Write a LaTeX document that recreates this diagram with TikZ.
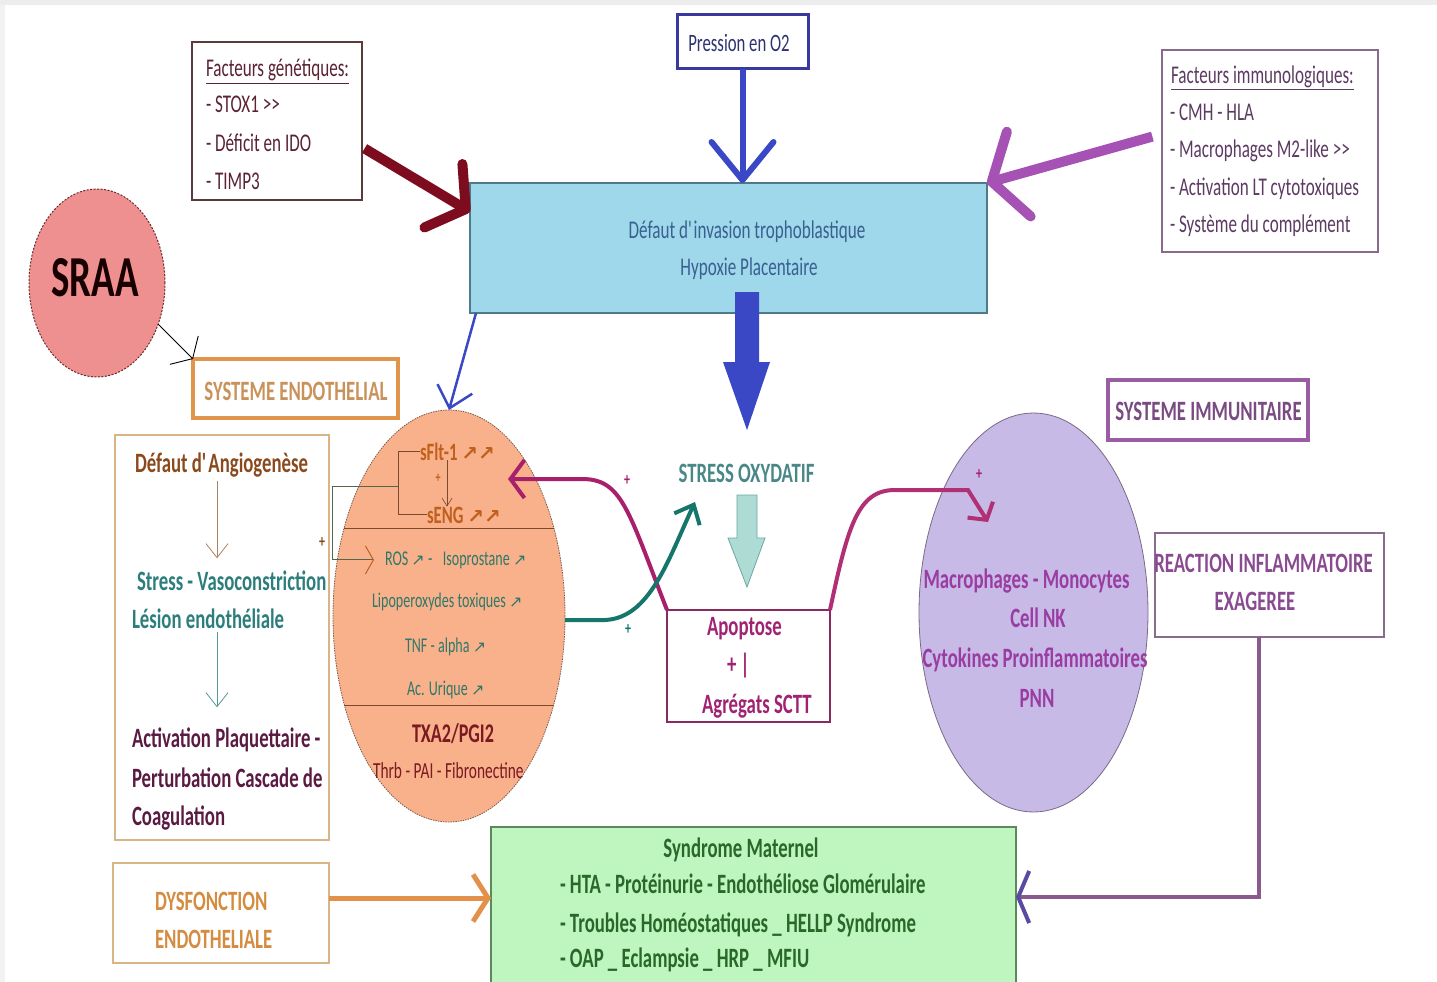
\documentclass[tikz,border=0pt]{standalone}
\usepackage{fontspec}
\setmainfont{Carlito}[FakeStretch=0.67]
\newfontfamily\symf{DejaVu Sans}
\usetikzlibrary{arrows.meta,shapes.geometric}
\definecolor{gentx}{HTML}{5A2232}
\definecolor{genbd}{HTML}{5A3A3A}
\definecolor{bluear}{HTML}{3A48C6}
\definecolor{presbd}{HTML}{3A3A9E}
\definecolor{prestx}{HTML}{2E3270}
\definecolor{hypfill}{HTML}{9ED8EA}
\definecolor{hypbd}{HTML}{4F7A88}
\definecolor{hyptx}{HTML}{3A5F90}
\definecolor{darkred}{HTML}{7D0C1E}
\definecolor{purar}{HTML}{A552B4}
\definecolor{immtx}{HTML}{5C3A62}
\definecolor{immbd}{HTML}{8A6A8A}
\definecolor{sraafill}{HTML}{EE9090}
\definecolor{sraabd}{HTML}{6A2A2A}
\definecolor{orbd}{HTML}{E0954A}
\definecolor{ortx}{HTML}{C8925A}
\definecolor{tanbd}{HTML}{D8B487}
\definecolor{browntx}{HTML}{8A4A1C}
\definecolor{tealtx}{HTML}{2C7E7C}
\definecolor{plumtx}{HTML}{5A1A42}
\definecolor{oefill}{HTML}{F9B18C}
\definecolor{oebd}{HTML}{7A5A4A}
\definecolor{oeline}{HTML}{7A4A2A}
\definecolor{loopc}{HTML}{56664E}
\definecolor{sflttx}{HTML}{C0601C}
\definecolor{oeteal}{HTML}{2F7868}
\definecolor{txatx}{HTML}{7A1A22}
\definecolor{magar}{HTML}{A8206C}
\definecolor{tealar}{HTML}{17766C}
\definecolor{stresstx}{HTML}{4A8888}
\definecolor{hatchfill}{HTML}{AEDCD4}
\definecolor{hatchbd}{HTML}{6AA8A0}
\definecolor{apobd}{HTML}{8A2A5C}
\definecolor{apotx}{HTML}{A02272}
\definecolor{pefill}{HTML}{C7BAE7}
\definecolor{pebd}{HTML}{7A6A84}
\definecolor{petx}{HTML}{9A3CA2}
\definecolor{sysibd}{HTML}{9A5CA2}
\definecolor{sysitx}{HTML}{7A4A82}
\definecolor{reacbd}{HTML}{8A6A8E}
\definecolor{reactx}{HTML}{8A4A92}
\definecolor{conn}{HTML}{8A5A8C}
\definecolor{connhd}{HTML}{5A4AA0}
\definecolor{dystx}{HTML}{D48C40}
\definecolor{orar}{HTML}{E3904A}
\definecolor{grfill}{HTML}{BFF5BF}
\definecolor{grbd}{HTML}{5A8A5A}
\definecolor{grtx}{HTML}{2A682A}
\newcommand\fz[1]{\fontsize{#1}{#1}\selectfont}
\newcommand\bfz{\fontsize{28}{28}\selectfont\bfseries}
\newcommand\upar[1][20]{{\symf\fontsize{#1}{#1}\selectfont ↗}}
\newcommand\q{\textquotesingle}
\begin{document}
\begin{tikzpicture}[x=1pt,y=-1pt,
  tx/.style={inner sep=0pt,outer sep=0pt},
  bx/.style={draw,rectangle,inner sep=0pt,outer sep=0pt},
  ell/.style={ellipse,draw,inner sep=0pt,outer sep=0pt},
]
\useasboundingbox (0,0) rectangle (1437,982);
\fill[black!7] (0,0) rectangle (1437,5);
\fill[black!5] (0,5) rectangle (5,982);

% ---------- genetic factors
\node[bx,draw=genbd,line width=1.3pt,minimum width=170pt,minimum height=158pt] (gen) at (277,121) {};
\node[tx,anchor=base west,text=gentx,font=\fz{25.5}] (gen0) at (206,77) {\underline{Facteurs génétiques:}};
\node[tx,anchor=base west,text=gentx,font=\fz{25.5}] (gen1) at (206,112) {- STOX1 >{}>};
\node[tx,anchor=base west,text=gentx,font=\fz{25.5}] (gen2) at (206,151) {- Déficit en IDO};
\node[tx,anchor=base west,text=gentx,font=\fz{25.5}] (gen3) at (206,189) {- TIMP3};

% ---------- pression
\node[bx,draw=presbd,line width=3pt,minimum width=131pt,minimum height=54pt] (pres) at (742.5,42) {};
\node[tx,anchor=base,text=prestx,font=\fz{25}] (prest) at (739,52) {Pression en O2};

% ---------- hypoxia box
\node[bx,fill=hypfill,draw=hypbd,line width=1.3pt,minimum width=517pt,minimum height=130pt] (hyp) at (728.5,248) {};
\node[tx,anchor=base,text=hyptx,font=\fz{25.5}] (hyp1) at (747,238) {Défaut d\q invasion trophoblastique};
\node[tx,anchor=base,text=hyptx,font=\fz{25.5}] (hyp2) at (749,275) {Hypoxie Placentaire};

% ---------- immunological factors
\node[bx,draw=immbd,line width=1.3pt,minimum width=216pt,minimum height=202pt] (imm) at (1270,151) {};
\node[tx,anchor=base west,text=immtx,font=\fz{25.5}] (imm0) at (1171,83) {\underline{Facteurs immunologiques:}};
\node[tx,anchor=base west,text=immtx,font=\fz{25.5}] (imm1) at (1170,120) {- CMH - HLA};
\node[tx,anchor=base west,text=immtx,font=\fz{25.5}] (imm2) at (1170,157) {- Macrophages M2-like >{}>};
\node[tx,anchor=base west,text=immtx,font=\fz{25.5}] (imm3) at (1170,195) {- Activation LT cytotoxiques};
\node[tx,anchor=base west,text=immtx,font=\fz{25.5}] (imm4) at (1170,232) {- Système du complément};

% big arrows into hypoxia box
\draw[bluear,line width=6pt,-{Straight Barb[length=38pt,width=62pt,round]}] (pres.south) -- (pres.south |- hyp.north);
\draw[darkred,line width=10pt,shorten <=3pt,-{Straight Barb[length=26pt,width=74pt,round]}] (gen.-17) -- (hyp.172);
\draw[purar,line width=10pt,shorten <=10pt,-{Straight Barb[length=28pt,width=88pt,round]}] (imm.171) -- (hyp.north east);

% ---------- SRAA
\node[ell,draw=sraabd,dash pattern=on 2pt off 1.5pt,line width=1pt,fill=sraafill,minimum width=136pt,minimum height=188pt] (sraa) at (97,283) {};
\node[tx,text=black!90!red,font=\fz{58}\bfseries] (sraat) at (95,278) {SRAA};

% ---------- systeme endothelial
\node[bx,draw=orbd,line width=4pt,minimum width=205pt,minimum height=59pt] (sysendo) at (295.5,388.5) {};
\node[tx,anchor=base,text=ortx,font=\bfz] (sysendot) at (296,400) {SYSTEME ENDOTHELIAL};
\draw[black,line width=0.9pt,-{Straight Barb[length=12pt,width=40pt]}] (sraa.-34) -- (sysendo.north west);

% ---------- angiogenesis box
\node[bx,draw=tanbd,line width=1.3pt,minimum width=214pt,minimum height=405pt] (angio) at (222,637.5) {};
\node[tx,anchor=base west,text=browntx,font=\bfz] (ang1) at (135,472) {Défaut d\q Angiogenèse};
\node[tx,anchor=base west,text=tealtx,font=\bfz] (ang2) at (137,590) {Stress - Vasoconstriction};
\node[tx,anchor=base west,text=tealtx,font=\bfz] (ang3) at (132,628) {Lésion endothéliale};
\node[tx,anchor=base west,text=plumtx,font=\bfz] (ang4) at (132,747) {Activation Plaquettaire -};
\node[tx,anchor=base west,text=plumtx,font=\bfz] (ang5) at (132,787) {Perturbation Cascade de};
\node[tx,anchor=base west,text=plumtx,font=\bfz] (ang6) at (132,825) {Coagulation};
\coordinate (angx) at (217,0);
\draw[browntx!70,line width=0.8pt,shorten <=4pt,shorten >=12pt,-{Straight Barb[length=14pt,width=22pt]}] (angx |- ang1.south) -- (angx |- ang2.north);
\draw[tealtx!80,line width=0.8pt,shorten <=4pt,shorten >=20pt,-{Straight Barb[length=14pt,width=22pt]}] (angx |- ang3.south) -- (angx |- ang4.north);

% ---------- orange ellipse
\node[ell,draw=oebd,dash pattern=on 1.5pt off 1pt,line width=0.8pt,fill=oefill,minimum width=232pt,minimum height=412pt] (oe) at (449,616) {};
\draw[oeline,line width=1pt] (344,528) -- (554,528);
\draw[oeline,line width=1pt] (344,705) -- (554,705);
\node[tx,anchor=base west,text=sflttx,font=\fz{25}\bfseries] (sflt) at (420,460) {sFlt-1 \upar\upar};
\node[tx,anchor=base west,text=sflttx,font=\fz{25}\bfseries] (seng) at (427,523) {sENG \upar\upar};
\node[tx,text=sflttx,font=\fz{15}\bfseries] (plus1) at (438,478) {+};
\draw[oeline,line width=0.6pt,-{Straight Barb[length=8pt,width=10pt]}] ([xshift=27pt]sflt.south west) -- ([xshift=20pt]seng.north west);
\draw[oeline,line width=1pt] (sflt.west) -- ++(-22,0) |- (seng.west);
\node[tx,anchor=base west,text=oeteal,font=\fz{21}] (ros) at (385,565) {ROS \upar[16] -\enspace Isoprostane \upar[16]};
\node[tx,anchor=base west,text=oeteal,font=\fz{21}] (lipo) at (372,607) {Lipoperoxydes toxiques \upar[16]};
\node[tx,anchor=base west,text=oeteal,font=\fz{21}] (tnf) at (405,652) {TNF - alpha \upar[16]};
\node[tx,anchor=base west,text=oeteal,font=\fz{21}] (acu) at (407,695) {Ac. Urique \upar[16]};
\node[tx,anchor=base west,text=txatx,font=\fz{27}\bfseries] (txa) at (412,742) {TXA2/PGI2};
\node[tx,anchor=base west,text=txatx,font=\fz{23}] (thrb) at (373,778) {Thrb - PAI - Fibronectine};
\coordinate (brm) at (398,486);
\draw[loopc,line width=1pt,shorten >=11pt,-{Straight Barb[length=8pt,width=28pt,color=sflttx]}] (brm) -- ++(-66,0) |- (ros.west);
\node[tx,text=browntx,font=\fz{18}\bfseries] (plus2) at (322,543) {+};

% thin blue arrow hyp -> orange ellipse
\draw[bluear,line width=2.5pt,-{Straight Barb[length=20pt,width=36pt]}] ([xshift=6pt]hyp.south west) -- (oe.north);

% ---------- stress oxydatif
\fill[bluear] (735,292) -- (759,292) -- (759,362) -- (770,362) -- (747,430) -- (723,362) -- (735,362) -- cycle;
\node[tx,anchor=base,text=stresstx,font=\bfz] (stress) at (746.5,482) {STRESS OXYDATIF};
\filldraw[fill=hatchfill,draw=hatchbd,line width=0.8pt] (737,495) -- (757,495) -- (757,538) -- (765,538) -- (747,587) -- (728,538) -- (737,538) -- cycle;

% ---------- apoptose
\node[bx,draw=apobd,line width=1.3pt,minimum width=163pt,minimum height=112pt] (apo) at (748.5,666) {};
\node[tx,anchor=base west,text=apotx,font=\bfz] (apo1) at (707,635) {Apoptose};
\node[tx,anchor=base west,text=apotx,font=\bfz] (apo2) at (727,673) {+ |};
\node[tx,anchor=base west,text=apotx,font=\bfz] (apo3) at (702,713) {Agrégats SCTT};

\coordinate (magtip) at (508,479);
\draw[magar,line width=4pt,-{Straight Barb[length=14pt,width=38pt]}] (apo.north west) .. controls (628,510) and (622,479) .. (582,479) -- (magtip);
\node[tx,text=magar,font=\fz{18}\bfseries] (plusm) at (627,481) {+};

\coordinate (tealtip) at (695,502);
\draw[tealar,line width=4pt,-{Straight Barb[length=16pt,width=28pt]}] ([yshift=-4pt]oe.east) -- (605,620) .. controls (650,618) and (668,560) .. (tealtip);
\node[tx,text=tealar,font=\fz{18}\bfseries] (plust) at (628,630) {+};

% ---------- purple ellipse
\node[ell,draw=pebd,line width=0.8pt,fill=pefill,minimum width=229pt,minimum height=399pt] (pe) at (1033.5,612.5) {};
\node[tx,anchor=base,text=petx,font=\bfz] (pe1) at (1026.5,588) {Macrophages - Monocytes};
\node[tx,anchor=base,text=petx,font=\bfz] (pe2) at (1038,627) {Cell NK};
\node[tx,anchor=base,text=petx,font=\bfz] (pe3) at (1035,667) {Cytokines Proinflammatoires};
\node[tx,anchor=base,text=petx,font=\bfz] (pe4) at (1037,707) {PNN};

\coordinate (magtip2) at (988,522);
\draw[magar!90!pink,line width=4pt,-{Straight Barb[length=12pt,width=30pt]}] (apo.north east) .. controls (848,525) and (858,490) .. (895,490) -- (968,490) -- (magtip2);
\node[tx,text=magar,font=\fz{18}\bfseries] (plusr) at (979,475) {+};

% ---------- systeme immunitaire
\node[bx,draw=sysibd,line width=4pt,minimum width=200pt,minimum height=60pt] (sysi) at (1208,410) {};
\node[tx,anchor=base,text=sysitx,font=\bfz] (sysit) at (1208.5,420) {SYSTEME IMMUNITAIRE};

% ---------- reaction inflammatoire
\node[bx,draw=reacbd,line width=1.3pt,minimum width=229pt,minimum height=104pt] (reac) at (1269.5,585) {};
\node[tx,anchor=base,text=reactx,font=\bfz] (reac1) at (1263.5,572) {REACTION INFLAMMATOIRE};
\node[tx,anchor=base,text=reactx,font=\bfz] (reac2) at (1255,610) {EXAGEREE};

% ---------- dysfonction
\node[bx,draw=tanbd,line width=1.3pt,minimum width=216pt,minimum height=100pt] (dysf) at (221,913) {};
\node[tx,anchor=base west,text=dystx,font=\bfz] (dysf1) at (155,910) {DYSFONCTION};
\node[tx,anchor=base west,text=dystx,font=\bfz] (dysf2) at (155,948) {ENDOTHELIALE};

% ---------- syndrome maternel
\node[bx,fill=grfill,draw=grbd,line width=1.3pt,minimum width=525pt,minimum height=170pt] (gr) at (753.5,912) {};
\node[tx,anchor=base,text=grtx,font=\bfz] (gr0) at (741,857) {Syndrome Maternel};
\node[tx,anchor=base west,text=grtx,font=\bfz] (gr1) at (560,893) {- HTA - Protéinurie - Endothéliose Glomérulaire};
\node[tx,anchor=base west,text=grtx,font=\bfz] (gr2) at (560,932) {- Troubles Homéostatiques \_ HELLP Syndrome};
\node[tx,anchor=base west,text=grtx,font=\bfz] (gr3) at (560,967) {- OAP \_ Eclampsie \_ HRP \_ MFIU};

\draw[orar,line width=5pt,-{Straight Barb[length=15pt,width=47pt]}] ([yshift=15pt]dysf.east) -- ([yshift=15pt]dysf.east -| gr.west);
\draw[conn,line width=4pt,-{Straight Barb[length=11pt,width=52pt,color=connhd]}] ([xshift=-10.5pt]reac.south) |- ([yshift=15pt]gr.east);
\end{tikzpicture}
\end{document}
